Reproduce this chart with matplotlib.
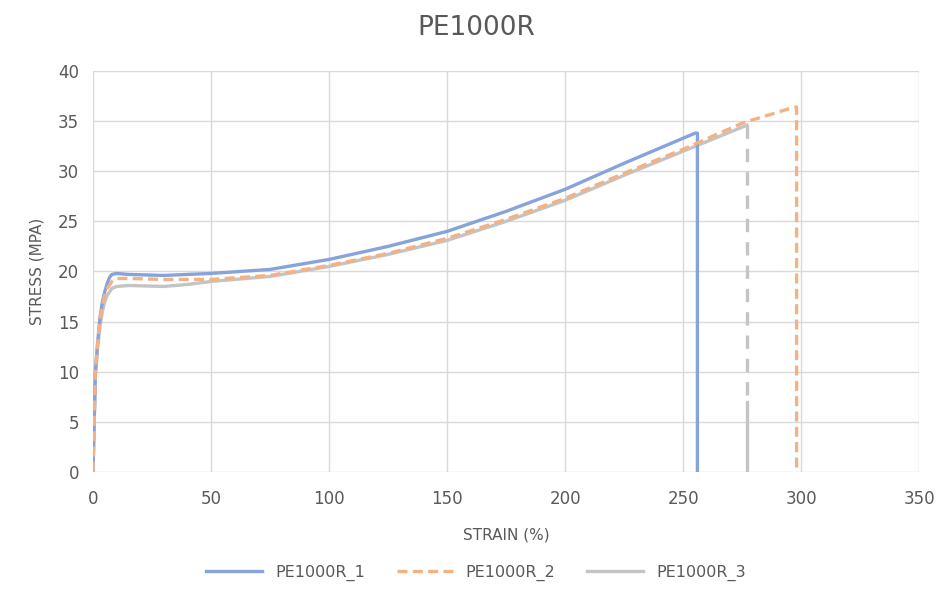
import numpy as np
import matplotlib.pyplot as plt

# strain (%) / stress (MPa)
strain_1 = [0, 0.5, 1, 2, 3, 4, 5, 6, 7, 8, 10, 15, 30, 50, 75, 100, 125, 150, 175, 200, 225, 250, 255, 256, 256]
stress_1 = [0, 5, 10, 13, 15.5, 17, 18, 18.8, 19.4, 19.7, 19.8, 19.7, 19.6, 19.8, 20.2, 21.2, 22.5, 24.0, 26.0, 28.2, 30.8, 33.3, 33.8, 33.8, 0]

strain_2 = [0, 0.5, 1, 2, 3, 4, 5, 6, 8, 10, 15, 30, 50, 75, 100, 125, 150, 175, 200, 225, 250, 275, 297, 298, 298]
stress_2 = [0, 5, 10, 13, 15.3, 16.7, 17.6, 18.3, 19.0, 19.3, 19.3, 19.2, 19.2, 19.6, 20.6, 21.8, 23.3, 25.2, 27.3, 29.8, 32.2, 34.8, 36.4, 36.4, 0]

strain_3 = [0, 0.5, 1, 2, 3, 4, 5, 6, 8, 10, 15, 30, 40, 50, 75, 100, 125, 150, 175, 200, 225, 250, 277]
stress_3 = [0, 5, 9.5, 12.5, 14.6, 16.0, 17.0, 17.6, 18.3, 18.5, 18.6, 18.5, 18.7, 19.0, 19.5, 20.5, 21.7, 23.1, 25.0, 27.1, 29.6, 32.0, 34.6]
# break of sample 3: drop drawn dashed down to ~7 MPa, then solid
drop_3_x = [277, 277, 277]
drop_3_y = [34.6, 7, 0]

labels = ['PE1000R_1', 'PE1000R_2', 'PE1000R_3']
colors = ['#86A3DC', '#F4B183', '#C4C4C4']

fig = plt.figure(figsize=(9.52, 5.92), dpi=100)
ax = fig.add_axes([0.0977, 0.203, 0.868, 0.677])

ax.plot(strain_1, stress_1, color=colors[0], lw=2.4, label=labels[0], zorder=3)
ax.plot(strain_2, stress_2, color=colors[1], lw=2.4, ls=(0, (3, 1.6)), label=labels[1], zorder=4)
ax.plot(strain_3, stress_3, color=colors[2], lw=2.4, label=labels[2], zorder=2)
ax.plot(drop_3_x[:2], drop_3_y[:2], color=colors[2], lw=2.4, ls=(0, (4, 3)), zorder=2)
ax.plot(drop_3_x[1:], drop_3_y[1:], color=colors[2], lw=2.4, zorder=2)

ax.set_xlim(0, 350)
ax.set_ylim(0, 40)
ax.set_xticks(np.arange(0, 351, 50))
ax.set_yticks(np.arange(0, 41, 5))
ax.grid(True, color='#D9D9D9', lw=1)
ax.set_axisbelow(True)
for s in ax.spines.values():
    s.set_visible(False)
ax.tick_params(length=0, labelsize=12, colors='#595959')
ax.tick_params(axis='x', pad=13)
ax.tick_params(axis='y', pad=10)

ax.set_xlabel('STRAIN (%)', fontsize=11, color='#595959', labelpad=14)
ax.set_ylabel('STRESS (MPA)', fontsize=11, color='#595959', labelpad=10)
fig.suptitle('PE1000R', fontsize=19, color='#595959', y=0.975)

fig.legend(loc='lower center', ncol=3, frameon=False, fontsize=11.5,
           bbox_to_anchor=(0.5, -0.005), handlelength=3.5, columnspacing=2,
           labelcolor='#595959')

fig.savefig('out.png', dpi=100)
